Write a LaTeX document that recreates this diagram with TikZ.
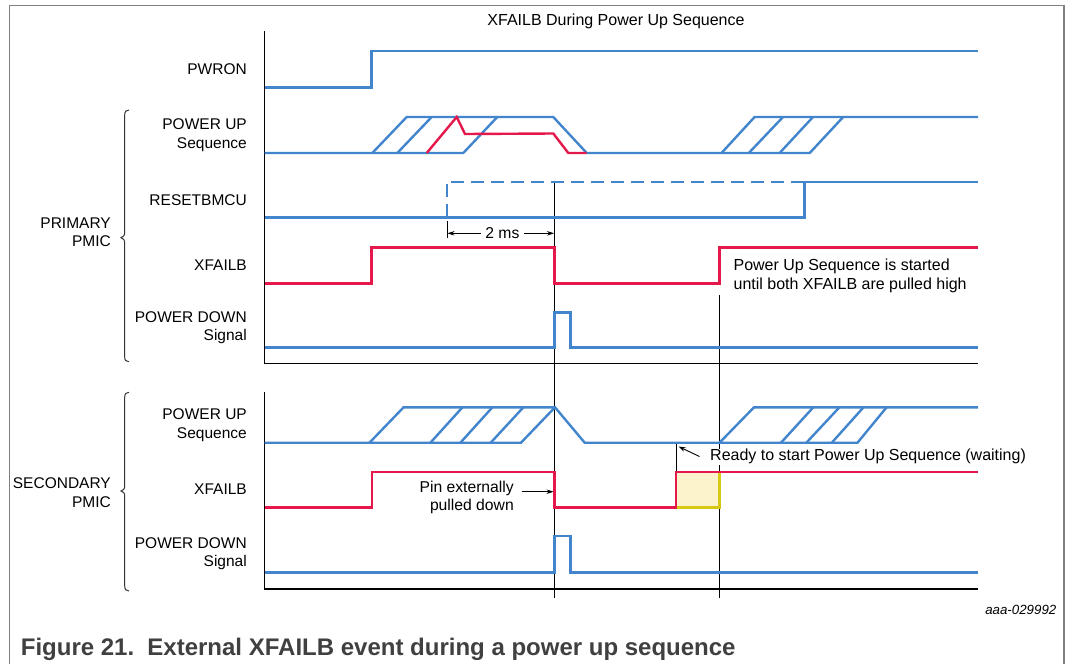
\documentclass[tikz,border=0pt]{standalone}
\usepackage{fontspec}
\setmainfont{Liberation Sans}
\usetikzlibrary{arrows.meta}
\definecolor{sigblue}{RGB}{66,133,204}
\definecolor{sigred}{RGB}{228,24,74}
\definecolor{framegray}{RGB}{128,128,128}
\definecolor{boxfill}{RGB}{252,242,204}
\definecolor{boxedge}{RGB}{214,200,20}
\definecolor{captiongray}{RGB}{64,64,64}
\begin{document}
\begin{tikzpicture}[x=1pt,y=-1pt,
  bluesig/.style={draw=sigblue,line width=2.4pt},
  redsig/.style={draw=sigred,line width=2.4pt},
  guide/.style={draw=black,line width=0.9pt},
  axisline/.style={draw=black,line width=1.1pt},
  bracestyle/.style={draw=black!80,line width=1pt},
  lbl/.style={font=\fontsize{15.5}{18.5}\selectfont,align=right,anchor=east,inner sep=0pt},
  note/.style={font=\fontsize{16}{18.5}\selectfont,align=left,anchor=west,inner sep=0pt},
  arr/.style={-{Stealth[length=7pt,width=4.5pt]},line width=0.9pt,draw=black}]
\useasboundingbox (0,0) rectangle (1066,664);
% frame
\draw[framegray,line width=1.2pt] (9.5,664) -- (9.5,5.5) -- (1064,5.5) -- (1064,664);
% title
\node[font=\fontsize{16}{18.5}\selectfont,inner sep=0pt] (title) at (616,21.7) {XFAILB During Power Up Sequence};
% guide lines
\draw[guide] (554.5,182) -- (554.5,598);
\draw[guide] (719.5,295) -- (719.5,598);
\draw[guide] (447,221) -- (447,238);
\draw[guide] (676,442) -- (676,471);
% axes
\draw[axisline] (264.5,31) -- (264.5,363.3) -- (978,363.3);
\draw[axisline] (264.5,392) -- (264.5,589) -- (978,589);
% PWRON
\draw[bluesig] (264.5,87.3) -- (371.5,87.3) -- (371.5,51) -- (978,51);
% primary power up
\draw[bluesig] (264.5,153) -- (463.3,153) -- (497.3,117);
\draw[bluesig] (372.3,153) -- (406.7,117) -- (553.3,117) -- (586.7,153) -- (809.7,153) -- (843.2,117);
\draw[bluesig] (397.3,153) -- (431.7,117);
\draw[bluesig] (721.5,153) -- (754.6,117) -- (978,117);
\draw[bluesig] (748.8,153) -- (783,117);
\draw[bluesig] (779.6,153) -- (813,117);
\draw[redsig] (426.7,153) -- (456.7,117) -- (465,134) -- (553.3,133.5) -- (568.3,153) -- (586.7,153);
% RESETBMCU
\draw[bluesig] (264.5,217.3) -- (804.5,217.3) -- (804.5,181.7) -- (978,181.7);
\draw[bluesig,dash pattern=on 13pt off 7pt] (447,217.3) -- (447,181.7) -- (804.5,181.7);
% XFAILB primary
\draw[redsig] (264.5,283.3) -- (371.5,283.3) -- (371.5,247.3) -- (554.5,247.3) -- (554.5,283.3) -- (719.5,283.3) -- (719.5,247.3) -- (978,247.3);
% power down primary
\draw[bluesig] (264.5,347.3) -- (554.5,347.3) -- (554.5,312.3) -- (570.3,312.3) -- (570.3,347.3) -- (978,347.3);
% secondary power up
\draw[bluesig] (264.5,442.7) -- (521,442.7) -- (555,407.3) -- (584.7,442.7) -- (857.5,442.7) -- (886.6,407.3);
\draw[bluesig] (369.5,442.7) -- (403.6,407.3) -- (555,407.3);
\draw[bluesig] (430.4,442.7) -- (462.5,407.3);
\draw[bluesig] (460.4,442.7) -- (492.4,407.3);
\draw[bluesig] (490.7,442.7) -- (523.4,407.3);
\draw[bluesig] (719.5,442.7) -- (754,407.3) -- (978,407.3);
\draw[bluesig] (781,442.7) -- (813.3,407.3);
\draw[bluesig] (806.4,442.7) -- (839.4,407.3);
\draw[bluesig] (831.8,442.7) -- (863.5,407.3);
% secondary XFAILB
\fill[boxfill] (676,471.7) rectangle (719.5,507.3);
\draw[boxedge,line width=2.4pt] (676,507.3) -- (719.5,507.3) -- (719.5,471.7);
\draw[redsig] (264.5,507.3) -- (371.9,507.3) -- (371.9,471.7) -- (554.5,471.7) -- (554.5,507.3) -- (676,507.3) -- (676,471.7) -- (978,471.7);
% secondary power down
\draw[bluesig] (264.5,572.3) -- (554.5,572.3) -- (554.5,536) -- (570.3,536) -- (570.3,572.3) -- (978,572.3);
% braces
\draw[bracestyle] (129,110) .. controls (126,110) and (124.7,111.5) .. (124.7,115) -- (124.7,232) .. controls (124.7,235.5) and (123.5,237.2) .. (121,237.7) .. controls (123.5,238.2) and (124.7,240) .. (124.7,243.5) -- (124.7,357) .. controls (124.7,360.3) and (126,361.7) .. (129,361.7);
\draw[bracestyle] (129,392.3) .. controls (126,392.3) and (124.7,393.8) .. (124.7,397.3) -- (124.7,485.5) .. controls (124.7,489) and (123.5,490.5) .. (121,491) .. controls (123.5,491.5) and (124.7,493) .. (124.7,496.5) -- (124.7,586) .. controls (124.7,589.5) and (126,591) .. (129,591);
% labels
\node[lbl] (lpwron) at (247,69) {PWRON};
\node[lbl] (lpu1) at (247,135) {POWER UP\\Sequence};
\node[lbl] (lrst) at (247,200) {RESETBMCU};
\node[lbl] (lxf1) at (247,265.3) {XFAILB};
\node[lbl] (lpd1) at (247,327.7) {POWER DOWN\\Signal};
\node[lbl] (lpu2) at (247,425.4) {POWER UP\\Sequence};
\node[lbl] (lxf2) at (247,489.3) {XFAILB};
\node[lbl] (lpd2) at (247,553.8) {POWER DOWN\\Signal};
\node[lbl] (lprim) at (111,232.2) {PRIMARY\\PMIC};
\node[lbl] (lsec) at (111,492.5) {SECONDARY\\PMIC};
% notes
\node[note] (started) at (733.4,276) {Power Up Sequence is started\\until both XFAILB are pulled high};
\node[lbl,font=\fontsize{15.7}{18.5}\selectfont] (pin) at (514,497.5) {Pin externally\\pulled down};
\node[note,fill=white,inner xsep=1.5pt,inner ysep=0.5pt] (ready) at (708.5,456.7) {Ready to start Power Up Sequence (waiting)};
% 2 ms dimension
\node[font=\fontsize{15.7}{18.5}\selectfont,inner xsep=4.5pt,inner ysep=0pt] (twoms) at (502.4,233.3) {2 ms};
\coordinate (msL) at (447.5,233.3);
\coordinate (msR) at (554,233.3);
\draw[arr] (twoms) -- (msL);
\draw[arr] (twoms) -- (msR);
% pin arrow
\coordinate (pinS) at (521.5,491.7);
\coordinate (pinE) at (553.5,491.7);
\draw[arr] (pinS) -- (pinE);
% ready arrow
\coordinate (readyS) at (699.5,456.5);
\coordinate (readyE) at (678.5,446.5);
\draw[arr] (readyS) -- (readyE);
% ids
\node[font=\fontsize{13.3}{16}\selectfont\itshape,anchor=east,inner sep=0pt] (aaa) at (1056.5,610) {aaa-029992};
\node[font=\fontsize{24}{28}\selectfont\bfseries,text=captiongray,anchor=west,inner sep=0pt] (caption) at (20.7,649.3) {Figure 21.\hspace{0.55em}External XFAILB event during a power up sequence};
\end{tikzpicture}
\end{document}
